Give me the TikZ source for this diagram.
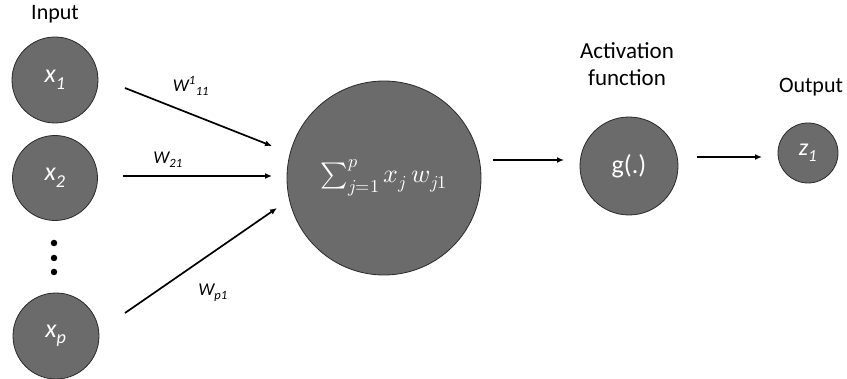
\documentclass[tikz,border=0pt]{standalone}
\usepackage{fontspec}
\usepackage{unicode-math}
\setmainfont{Carlito}
\setmathfont{Latin Modern Math}
\usetikzlibrary{calc,arrows.meta}
\definecolor{nodefill}{HTML}{6B6B6B}
\definecolor{nodeedge}{HTML}{2A2A2A}
\tikzset{
  neuron/.style={circle, fill=nodefill, draw=nodeedge, line width=0.8pt, inner sep=0pt, text=white},
  arr/.style={-{Latex[length=7pt,width=6pt]}, line width=1.7pt, black},
  title/.style={font=\fontsize{22}{27}\selectfont, align=center, inner sep=0pt},
  wlab/.style={font=\fontsize{18}{20}\selectfont\itshape, inner sep=0pt},
  dot/.style={circle, fill=black, inner sep=0pt, minimum size=6.5pt}
}
\begin{document}
\begin{tikzpicture}[x=1pt,y=-1pt]
\useasboundingbox (0,0) rectangle (847,379);
% nodes
\node[neuron, minimum size=86pt, font=\fontsize{26}{30}\selectfont\itshape] (x1) at (55,80) {x\textsubscript{1}};
\node[neuron, minimum size=85pt, font=\fontsize{26}{30}\selectfont\itshape] (x2) at (55,178) {x\textsubscript{2}};
\node[neuron, minimum size=86pt, font=\fontsize{26}{30}\selectfont\itshape] (xp) at (56,336) {x\textsubscript{p}};
\node[neuron, minimum size=194pt, font=\fontsize{26}{30}\selectfont] (sum) at (384,178) {$\sum_{j=1}^{p} x_j\, w_{j1}$};
\node[neuron, minimum size=98pt, font=\fontsize{26}{30}\selectfont] (g) at (629,166) {g(.)};
\node[neuron, minimum size=60pt, font=\fontsize{24}{28}\selectfont\itshape] (z) at (808,153) {z\textsubscript{1}};
% dots
\node[dot] (d1) at (54,243) {};
\node[dot] (d2) at (54,258) {};
\node[dot] (d3) at (54,272) {};
% titles
\node[title] (tin) at (55,14) {Input};
\node[title, font=\fontsize{23}{27}\selectfont] (tact) at (627,64) {Activation\\function};
\node[title] (tout) at (811,87) {Output};
% connectors
\draw[arr] ($(x1)+(70,8)$) -- ($(sum)+(-112,-32)$);
\draw[arr] ($(x2)+(68,-2)$) -- ($(sum)+(-112,-2)$);
\draw[arr] ($(xp)+(69,-23)$) -- ($(sum)+(-107,30)$);
\draw[arr] ($(sum)+(109,-18)$) -- ($(g)+(-65,-6)$);
\draw[arr] ($(g)+(68,-9)$) -- ($(z)+(-46,4)$);
% weight labels
\node[wlab] (w11) at (191,86) {W\textsuperscript{1}\textsubscript{11}};
\node[wlab] (w21) at (168,160) {W\textsubscript{21}};
\node[wlab] (wp1) at (213,293) {W\textsubscript{p1}};
\end{tikzpicture}
\end{document}
